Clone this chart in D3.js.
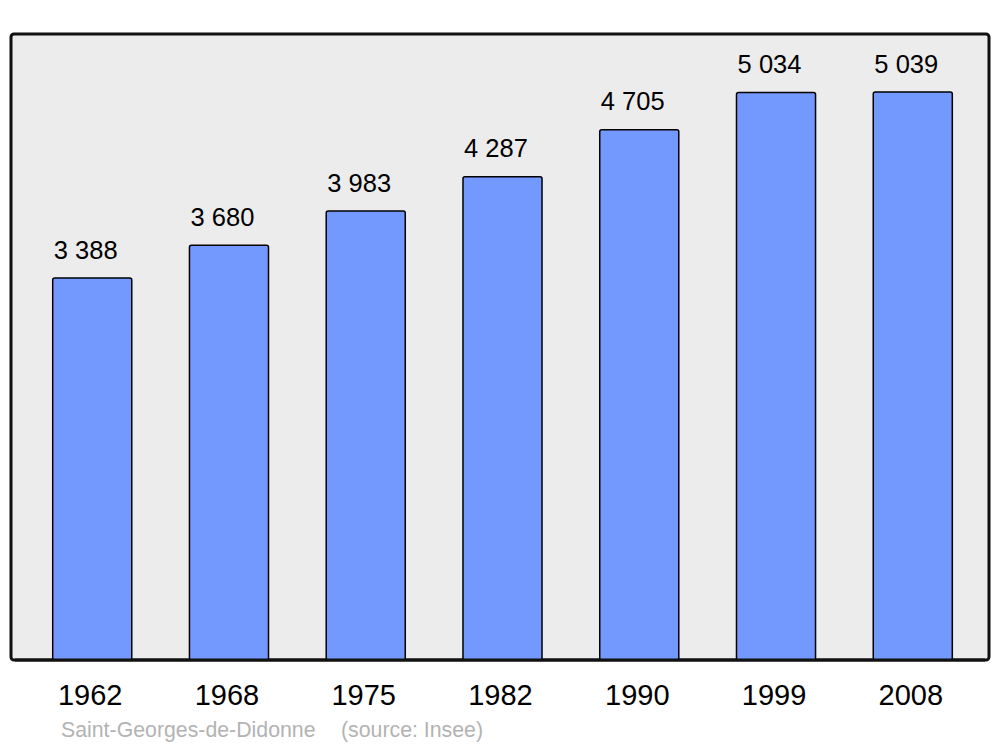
<!DOCTYPE html>
<html>
<head>
<meta charset="utf-8">
<script src="https://cdn.jsdelivr.net/npm/d3@7"></script>
<style>
  body { margin: 0; background: #fff; }
  text { font-family: "Liberation Sans", Arial, sans-serif; }
</style>
</head>
<body>
<div id="chart"></div>
<script>
// data
var years = ["1962", "1968", "1975", "1982", "1990", "1999", "2008"];
var population = [3388, 3680, 3983, 4287, 4705, 5034, 5039];
var townName = "Saint-Georges-de-Didonne";
var sourceText = "(source: Insee)";

var width = 1000, height = 747;

var svg = d3.select("#chart")
  .append("svg")
    .attr("width", width)
    .attr("height", height);

// frame
svg.append("rect")
  .attr("x", 11)
  .attr("y", 34)
  .attr("width", 978)
  .attr("height", 626)
  .attr("rx", 3)
  .attr("ry", 3)
  .style("fill", "#ececec")
  .style("stroke", "#111")
  .style("stroke-width", 3);

var x = d3.scaleBand()
  .domain(years)
  .range([14, 991])
  .paddingInner(0.422)
  .paddingOuter(0.283);

var y = d3.scaleLinear()
  .domain([0, 5039])
  .range([660, 92]);

var data = years.map(function(d, i) { return {year: d, value: population[i]}; });

// bars
svg.selectAll(".bar")
  .data(data)
  .enter()
  .append("rect")
    .attr("class", "bar")
    .attr("x", function(d) { return x(d.year); })
    .attr("y", function(d) { return y(d.value); })
    .attr("width", x.bandwidth())
    .attr("height", function(d) { return y(0) - y(d.value); })
    .attr("rx", 2)
    .attr("ry", 2)
    .style("fill", "#7399ff")
    .style("stroke", "#000")
    .style("stroke-width", 1.5);

// redraw frame bottom line over bar bottoms (keep rounded corners)
svg.append("line")
  .attr("x1", 15).attr("x2", 985)
  .attr("y1", 660).attr("y2", 660)
  .style("stroke", "#111")
  .style("stroke-width", 3);

// value labels (sit a little left of the bar centre, like the original)
var fmt = function(v) {
  var s = String(v);
  return s.length > 3 ? s.slice(0, s.length - 3) + " " + s.slice(-3) : s;
};
svg.selectAll(".val")
  .data(data)
  .enter()
  .append("text")
    .attr("class", "val")
    .attr("x", function(d) { return x(d.year) + x.bandwidth() / 2 - 6.5; })
    .attr("y", function(d) { return y(d.value) - 19.5; })
    .attr("text-anchor", "middle")
    .style("font-size", "25.5px")
    .style("fill", "#000")
    .text(function(d) { return fmt(d.value); });

// year labels
svg.selectAll(".year")
  .data(years)
  .enter()
  .append("text")
    .attr("class", "year")
    .attr("x", function(d) { return x(d) + x.bandwidth() / 2 - 2; })
    .attr("y", 705)
    .attr("text-anchor", "middle")
    .style("font-size", "29px")
    .style("fill", "#000")
    .text(function(d) { return d; });

// footer
svg.append("text")
  .attr("x", 61)
  .attr("y", 737)
  .style("font-size", "21.3px")
  .style("fill", "#b3b3b3")
  .text(townName);
svg.append("text")
  .attr("x", 341)
  .attr("y", 737)
  .style("font-size", "21.3px")
  .style("fill", "#b3b3b3")
  .text(sourceText);
</script>
</body>
</html>
